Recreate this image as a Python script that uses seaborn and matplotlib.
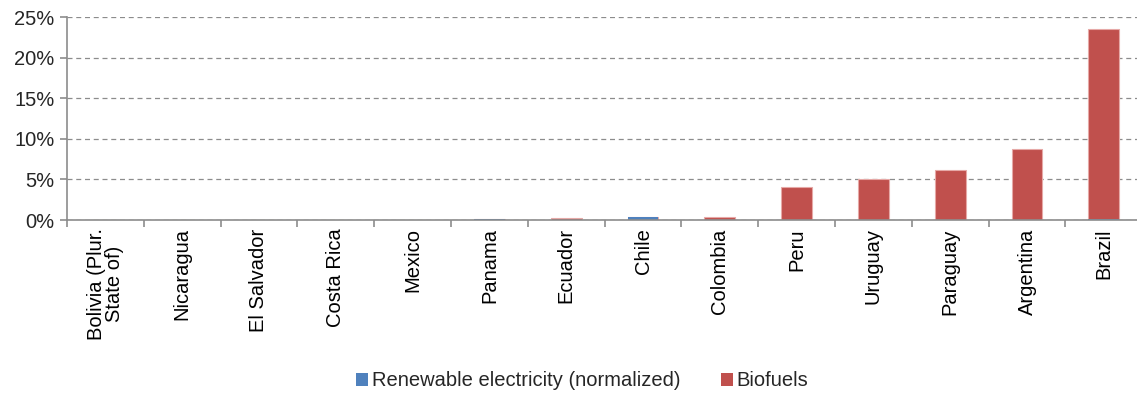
import matplotlib
matplotlib.use("Agg")
import matplotlib.pyplot as plt
import matplotlib.ticker as mticker
from matplotlib.patches import Patch
import seaborn as sns
import pandas as pd
import numpy as np

countries = ["Bolivia (Plur.\nState of)", "Nicaragua", "El Salvador", "Costa Rica", "Mexico",
             "Panama", "Ecuador", "Chile", "Colombia", "Peru", "Uruguay", "Paraguay",
             "Argentina", "Brazil"]
renewable = [0.0, 0.0, 0.0, 0.0, 0.03, 0.10, 0.0, 0.35, 0.0, 0.0, 0.0, 0.0, 0.0, 0.10]
biofuels = [0.0, 0.0, 0.0, 0.0, 0.0, 0.0, 0.2, 0.0, 0.35, 4.1, 5.1, 6.2, 8.8, 23.45]
series_names = ["Renewable electricity (normalized)", "Biofuels"]
yticks = [0, 5, 10, 15, 20, 25]

blue = "#4F81BD"
red = "#C0504D"
FS = 14.5

sns.set_theme(style="white")
plt.rcParams["font.family"] = ["Liberation Sans", "DejaVu Sans"]

df = pd.DataFrame({"country": countries,
                   "renew": renewable,
                   "total": np.array(renewable) + np.array(biofuels)})

fig = plt.figure(figsize=(11.37, 3.94), dpi=100)
ax = fig.add_axes([67 / 1137, 1 - 220 / 394, 14 * 76.8 / 1137, (220 - 17.3) / 394])

sns.barplot(data=df, x="country", y="total", color=red, saturation=1, width=0.4,
            edgecolor="#E6A9A7", linewidth=0.8, ax=ax)
sns.barplot(data=df, x="country", y="renew", color=blue, saturation=1, width=0.4,
            linewidth=0, ax=ax)

ax.set_xlim(-0.5, len(countries) - 0.5)
ax.set_ylim(0, 25)
ax.set_yticks(yticks)
ax.yaxis.set_major_formatter(mticker.FuncFormatter(lambda v, p: f"{v:.0f}%"))
ax.set_xlabel("")
ax.set_ylabel("")
ax.grid(axis="y", color="#8C8C8C", linestyle=(0, (4, 3)), linewidth=0.9)
ax.set_axisbelow(True)

for s in ["top", "right"]:
    ax.spines[s].set_visible(False)
for s in ["left", "bottom"]:
    ax.spines[s].set_color("#8C8C8C")
    ax.spines[s].set_linewidth(1.2)

ax.set_xticks(range(len(countries)))
ax.set_xticklabels(countries, rotation=90, va="top", ha="center", fontsize=FS,
                   color="#000000", linespacing=0.95)
ax.tick_params(axis="x", which="major", length=0, pad=6)
ax.set_xticks(np.arange(-0.5, len(countries), 1), minor=True)
ax.tick_params(axis="x", which="minor", length=5, width=1.2, color="#8C8C8C", bottom=True)
ax.tick_params(axis="y", length=5, width=1.2, color="#8C8C8C", left=True, labelsize=FS, pad=4)

handles = [Patch(facecolor=blue, edgecolor="none"), Patch(facecolor=red, edgecolor="none")]
fig.legend(handles, series_names, loc="center", bbox_to_anchor=(582 / 1137, 1 - 381 / 394),
           ncol=2, frameon=False, fontsize=FS, handlelength=0.6, handleheight=0.6,
           handletextpad=0.2, columnspacing=2.0)

fig.savefig("out.png", dpi=100)
